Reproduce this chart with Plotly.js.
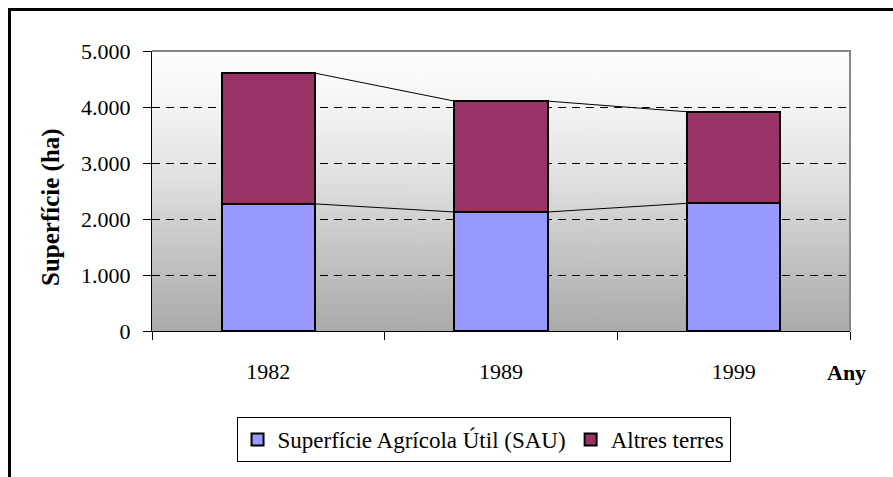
<!DOCTYPE html>
<html>
<head>
<meta charset="utf-8">
<script src="https://cdn.plot.ly/plotly-3.0.1.min.js"></script>
<style>
  html, body { margin: 0; padding: 0; background: #ffffff; }
  #wrap { position: relative; width: 893px; height: 477px; overflow: hidden; }
  #chart { position: absolute; left: 0; top: 0; width: 893px; height: 477px; }
  #frame { position: absolute; left: 8px; top: 8px; width: 900px; height: 480px;
           border-left: 3px solid #000; border-top: 3px solid #000; pointer-events: none; }
</style>
</head>
<body>
<div id="wrap"><div id="chart"></div><div id="frame"></div></div>
<script>
// ---- data ----
const years = ['1982', '1989', '1999'];
const sau = [2270, 2125, 2280];          // Superfície Agrícola Útil (SAU)
const altres = [2335, 1980, 1635];       // Altres terres
const yTicks = [0, 1000, 2000, 3000, 4000, 5000];

const FONT = '"Liberation Serif", "Times New Roman", "DejaVu Serif", serif';
const barWidth = 0.4;
const pos = years.map((_, i) => i);
const totals = sau.map((v, i) => v + altres[i]);

// series lines (Excel style) connecting bar edges
function seriesLine(vals) {
  const xs = [], ys = [];
  for (let i = 0; i < vals.length - 1; i++) {
    xs.push(pos[i] + barWidth / 2, pos[i + 1] - barWidth / 2, null);
    ys.push(vals[i], vals[i + 1], null);
  }
  return { x: xs, y: ys };
}
const l1 = seriesLine(sau), l2 = seriesLine(totals);

// gradient background image
function gradientURL() {
  const c = document.createElement('canvas');
  c.width = 4; c.height = 280;
  const g = c.getContext('2d');
  const gr = g.createLinearGradient(0, 0, 0, 280);
  gr.addColorStop(0, '#fdfdfd');
  gr.addColorStop(0.1, '#fafafa');
  gr.addColorStop(0.28, '#eeeeee');
  gr.addColorStop(0.46, '#e0e0e0');
  gr.addColorStop(0.64, '#cccccc');
  gr.addColorStop(1, '#aaaaaa');
  g.fillStyle = gr;
  g.fillRect(0, 0, 4, 280);
  return c.toDataURL();
}

const traces = [
  { type: 'bar', name: 'Superfície Agrícola Útil (SAU)', x: pos, y: sau, width: barWidth,
    marker: { color: '#9999ff', line: { color: '#000000', width: 2 } }, hoverinfo: 'y' },
  { type: 'bar', name: 'Altres terres', x: pos, y: altres, width: barWidth,
    marker: { color: '#993366', line: { color: '#000000', width: 2 } }, hoverinfo: 'y' },
  { type: 'scatter', mode: 'lines', x: l1.x, y: l1.y, showlegend: false,
    line: { color: '#000000', width: 1 }, hoverinfo: 'skip', connectgaps: false },
  { type: 'scatter', mode: 'lines', x: l2.x, y: l2.y, showlegend: false,
    line: { color: '#000000', width: 1 }, hoverinfo: 'skip', connectgaps: false },
  { type: 'scatter', mode: 'markers', x: [0], y: [0], xaxis: 'x2', showlegend: false,
    marker: { opacity: 0 }, hoverinfo: 'skip' }
];

const layout = {
  width: 893, height: 477,
  margin: { l: 152, r: 43, t: 51, b: 146 },
  paper_bgcolor: '#ffffff',
  plot_bgcolor: 'rgba(0,0,0,0)',
  barmode: 'stack',
  separators: ',.',
  font: { family: FONT, size: 22, color: '#000000' },
  showlegend: true,
  legend: {
    orientation: 'h', x: 0.475, xanchor: 'center', y: -0.307, yanchor: 'top',
    bgcolor: '#ffffff', bordercolor: '#000000', borderwidth: 1,
    traceorder: 'normal', font: { family: FONT, size: 23, color: '#000000' }
  },
  xaxis: {
    range: [-0.5, 2.5], tickvals: pos, ticktext: years, ticks: '',
    showgrid: false, zeroline: false, showline: true, linecolor: '#000000', linewidth: 1,
    ticklabelstandoff: 21, tickfont: { family: FONT, size: 22 }, fixedrange: true
  },
  xaxis2: {
    overlaying: 'x', range: [-0.5, 2.5], tickvals: [-0.5, 0.5, 1.5, 2.5],
    showticklabels: false, ticks: 'outside', ticklen: 8, tickcolor: '#000000',
    showgrid: false, zeroline: false, showline: false, side: 'bottom', anchor: 'y', fixedrange: true
  },
  yaxis: {
    range: [0, 5000], tickvals: yTicks, tickformat: ',.0f',
    ticks: 'outside', ticklen: 8, tickcolor: '#000000',
    showgrid: true, gridcolor: '#000000', gridwidth: 1, griddash: '8px,6px',
    zeroline: false, showline: true, linecolor: '#000000', linewidth: 1,
    ticklabelstandoff: 8,
    tickfont: { family: FONT, size: 22 }, fixedrange: true
  },
  images: [{
    source: gradientURL(), xref: 'paper', yref: 'paper', x: 0, y: 1,
    sizex: 1, sizey: 1, sizing: 'stretch', layer: 'below', xanchor: 'left', yanchor: 'top'
  }],
  shapes: [{
    type: 'path', xref: 'paper', yref: 'paper', path: 'M 0,1 L 1,1 L 1,0',
    line: { color: '#888888', width: 2 }, layer: 'above'
  }],
  annotations: [
    { text: '<b>Superfície (ha)</b>', xref: 'paper', yref: 'paper',
      x: (51 - 152) / 698, y: (331 - 207) / 280, xanchor: 'center', yanchor: 'middle',
      textangle: -90, showarrow: false, font: { family: FONT, size: 25 } },
    { text: '<b>Any</b>', xref: 'paper', yref: 'paper',
      x: (846 - 152) / 698, y: (331 - 372) / 280, xanchor: 'center', yanchor: 'middle',
      showarrow: false, font: { family: FONT, size: 22 } }
  ]
};

Plotly.newPlot('chart', traces, layout, { displayModeBar: false, staticPlot: true });
</script>
</body>
</html>
